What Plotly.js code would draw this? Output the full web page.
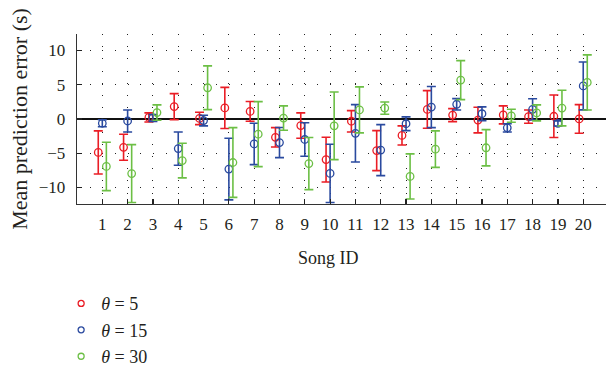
<!DOCTYPE html>
<html>
<head>
<meta charset="utf-8">
<script src="https://cdn.plot.ly/plotly-3.0.1.min.js"></script>
<style>html,body{margin:0;padding:0;background:#fff;}#chart{width:606px;height:366px;}</style>
</head>
<body>
<div id="chart"></div>
<script>
// Song IDs
const songs = [1,2,3,4,5,6,7,8,9,10,11,12,13,14,15,16,17,18,19,20];
const tickLabels = songs.map(String);
const xTitle = 'Song ID';
const yTitle = 'Mean prediction error (s)';

// theta = 5 (mean, half-range of error bar)
const mean5 = [-4.89,-4.14,0.22,1.80,0.07,1.60,1.10,-2.68,-0.97,-5.94,-0.34,-4.62,-2.41,1.39,0.56,-0.17,0.59,0.34,0.39,0.00];
const err5  = [3.14,1.90,0.66,1.90,0.90,3.00,1.44,1.41,1.85,3.26,1.56,2.92,1.39,2.75,0.95,1.87,1.31,0.97,3.11,2.09];

// theta = 15
const mean15 = [-0.63,-0.30,0.15,-4.33,-0.24,-7.32,-3.65,-3.45,-3.00,-7.95,-2.10,-4.55,-0.70,1.73,2.14,0.76,-1.30,1.40,-0.66,4.82];
const err15  = [0.52,1.60,0.50,2.43,0.78,4.50,3.02,2.20,2.45,4.25,4.19,3.72,1.00,3.00,0.83,1.00,0.60,1.55,0.37,3.50];

// theta = 30
const mean30 = [-6.94,-7.98,0.93,-6.08,4.55,-6.36,-2.22,0.13,-6.52,-1.00,1.32,1.58,-8.39,-4.41,5.67,-4.21,0.46,0.88,1.58,5.33];
const err30  = [3.53,4.23,1.12,2.53,3.19,5.09,4.75,1.78,3.80,4.94,3.36,0.90,3.29,2.66,2.85,2.65,0.95,1.17,2.60,4.02];

const seriesNames = ['<i>θ</i> = 5', '<i>θ</i> = 15', '<i>θ</i> = 30'];
const colors = ['#ea1d25', '#2a4a9f', '#6cbf45'];
const offsets = [-0.16, 0, 0.16];
const means = [mean5, mean15, mean30];
const errs = [err5, err15, err30];

const FONT = '"Liberation Serif", "Times New Roman", serif';
const traces = [];
means.forEach((m, i) => {
  traces.push({
    type: 'scatter', mode: 'markers',
    x: songs.map(s => s + offsets[i]),
    y: m,
    showlegend: false,
    marker: {symbol: 'circle-open', size: 7.5, color: colors[i], line: {width: 1.3, color: colors[i]}},
    error_y: {type: 'data', symmetric: true, array: errs[i], color: colors[i], thickness: 1.6, width: 4.5},
    hoverinfo: 'skip'
  });
});
// legend entries
seriesNames.forEach((n, i) => {
  traces.push({
    type: 'scatter', mode: 'markers', x: [null], y: [null], name: n,
    marker: {symbol: 'circle-open', size: 6, color: colors[i], line: {width: 1.3, color: colors[i]}}
  });
});

const layout = {
  width: 606, height: 366,
  margin: {l: 77, r: 0, t: 34, b: 162, pad: 0, autoexpand: false},
  paper_bgcolor: '#fff', plot_bgcolor: '#fff',
  font: {family: FONT, size: 17, color: '#231f20'},
  showlegend: true,
  legend: {
    x: -0.030, y: -0.478, xanchor: 'left', yanchor: 'top',
    font: {family: FONT, size: 18, color: '#231f20'},
    bgcolor: 'rgba(0,0,0,0)', borderwidth: 0, tracegroupgap: 0
  },
  annotations: [{
    text: xTitle, xref: 'paper', yref: 'paper', x: 0.476, y: -0.318,
    xanchor: 'center', yanchor: 'middle', showarrow: false,
    font: {family: FONT, size: 18, color: '#231f20'}
  }],
  xaxis: {
    range: [0, 20.9],
    tickvals: songs, ticktext: tickLabels,
    ticks: 'inside', ticklen: 5, tickwidth: 1.2, tickcolor: '#222',
    showline: true, linecolor: '#333', linewidth: 1.3,
    showgrid: true, gridcolor: '#222', gridwidth: 1, griddash: '1px,11.2px',
    zeroline: false,
    ticklabelstandoff: 4,
    tickfont: {family: FONT, size: 17}
  },
  yaxis: {
    range: [-12.42, 12.4],
    tickvals: [-10, -5, 0, 5, 10],
    ticks: 'inside', ticklen: 5, tickwidth: 1.2, tickcolor: '#222',
    showline: true, linecolor: '#333', linewidth: 1.3,
    showgrid: true, gridcolor: '#222', gridwidth: 1, griddash: '1px,11.65px',
    zeroline: true, zerolinecolor: '#111', zerolinewidth: 1.5,
    ticklabelstandoff: 7,
    tickfont: {family: FONT, size: 17},
    title: {text: yTitle, font: {family: FONT, size: 22}, standoff: 5}
  }
};

Plotly.newPlot('chart', traces, layout, {staticPlot: true, displayModeBar: false});
</script>
</body>
</html>
